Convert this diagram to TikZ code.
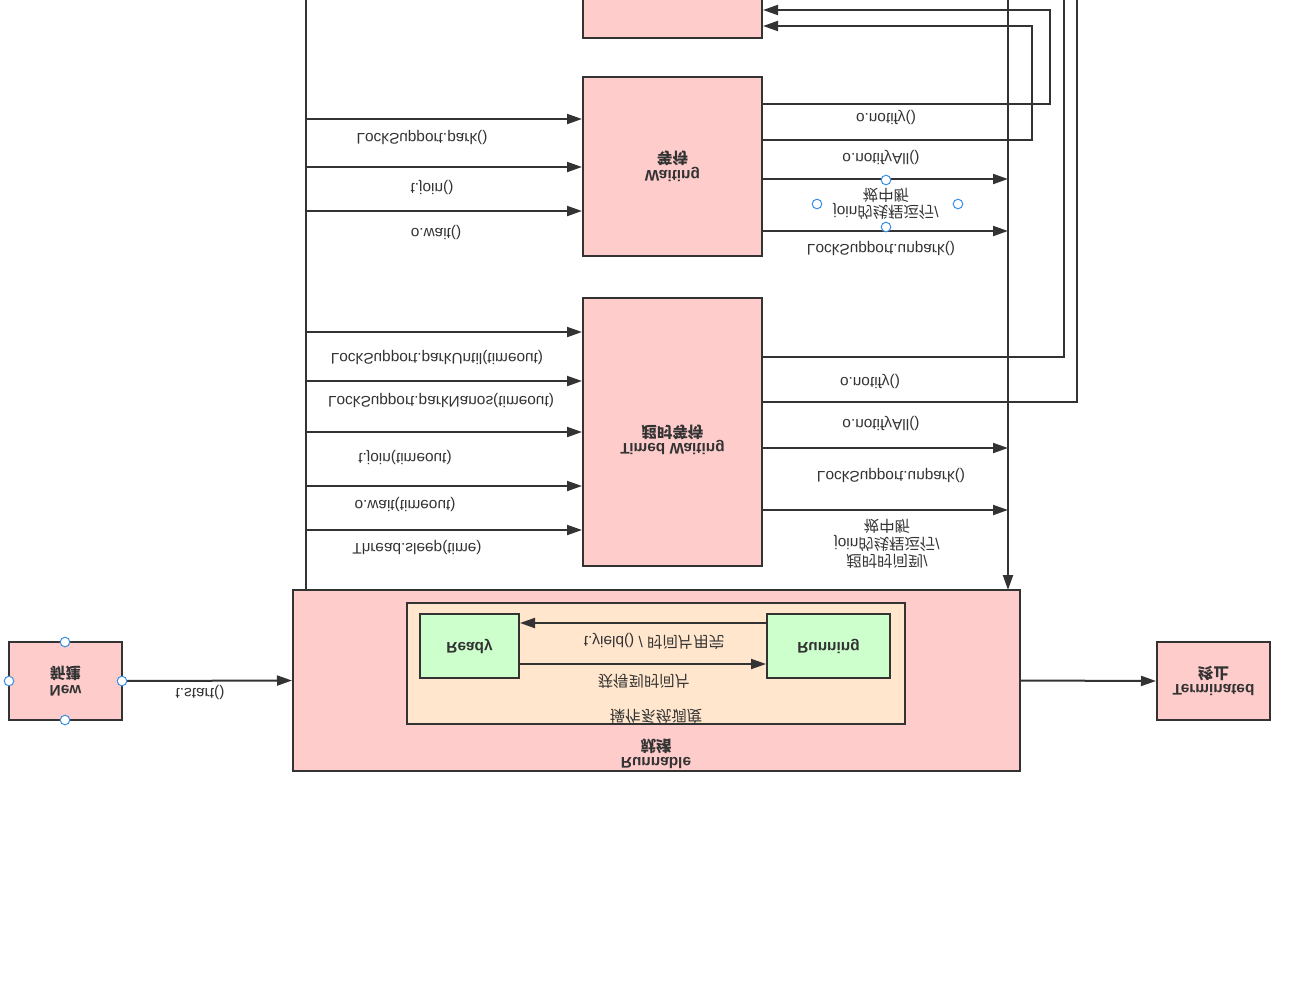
\documentclass[tikz,border=0pt]{standalone}
\usepackage{fontspec}
\setmainfont{Liberation Sans}
\newfontfamily\cjk{Noto Sans CJK SC}
\usetikzlibrary{arrows.meta}
\definecolor{pinkfill}{HTML}{FFCCCC}
\definecolor{peach}{HTML}{FFE6CC}
\definecolor{mint}{HTML}{CCFFCC}
\definecolor{ink}{HTML}{333333}
\definecolor{handleblue}{HTML}{3A8EE6}
\begin{document}
\begin{tikzpicture}[x=0.5pt,y=0.5pt,yscale=-1,
  every node/.style={transform shape,font=\fontsize{7.7}{8.8}\selectfont,inner sep=0pt,align=center,text=ink},
  box/.style={draw=ink,line width=1pt,fill=pinkfill},
  inbox/.style={draw=ink,line width=1pt},
  arr/.style={draw=ink,line width=1pt,-{Triangle[length=7.5pt,width=5pt]}},
  wire/.style={draw=ink,line width=1pt},
  handle/.style={draw=handleblue,fill=white,line width=0.5pt}]
\useasboundingbox (0,0) rectangle (1298,993);
\clip (0,0) rectangle (1298,993);

% ---------- boxes ----------
\node[box,minimum width=89.5pt,minimum height=49pt] (blocked) at (672.5,-11) {};
\node[box,minimum width=89.5pt,minimum height=89.5pt] (waiting) at (672.5,166.5) {\textbf{Waiting}\\{\cjk\bfseries 等待}};
\node[box,minimum width=89.5pt,minimum height=134pt] (timed) at (672.5,432) {};
\node (timedlbl) at (672.5,440) {\textbf{Timed Waiting}\\{\cjk\bfseries 超时等待}};
\node[box,minimum width=363.5pt,minimum height=90.5pt] (runnable) at (656.5,680.5) {};
\node[inbox,fill=peach,minimum width=249pt,minimum height=60.5pt] (os) at (656,663.5) {};
\node[inbox,fill=mint,minimum width=49.5pt,minimum height=32pt] (ready) at (469.5,646) {\textbf{Ready}};
\node[inbox,fill=mint,minimum width=61.5pt,minimum height=32pt] (running) at (828.5,646) {\textbf{Running}};
\node (oslbl) at (656,716) {\cjk 操作系统调度};
\node (runlbl) at (656,754) {\textbf{Runnable}\\{\cjk\bfseries 就绪}};
\node[box,minimum width=56.5pt,minimum height=39pt] (new) at (65.5,681) {\textbf{New}\\{\cjk\bfseries 新建}};
\node[box,minimum width=56.5pt,minimum height=39pt] (term) at (1213.5,681) {\textbf{Terminated}\\{\cjk\bfseries 终止}};

% ---------- left bus ----------
\coordinate (Ltop) at (306,-5);
\coordinate (Lbot) at (306,590);
\draw[wire] (Ltop) -- (Lbot);
\foreach \yy/\nm in {119/waiting,167/waiting,211/waiting,332/timed,381/timed,432/timed,486/timed,530/timed}{
  \coordinate (s) at (305,\yy);
  \draw[arr] (s) -- (s -| \nm.west);
}
\node (l1) at (422,137) {LockSupport.park()};
\node (l2) at (432,187) {t.join()};
\node (l3) at (436,232) {o.wait()};
\node (l4) at (437,357) {LockSupport.parkUntil(timeout)};
\node (l5) at (441,400) {LockSupport.parkNanos(timeout)};
\node (l6) at (405,457) {t.join(timeout)};
\node (l7) at (405,504) {o.wait(timeout)};
\node (l8) at (417,547) {Thread.sleep(time)};

% ---------- right bus ----------
\coordinate (Rtop) at (1008,-5);
\coordinate (Rbot) at (1008,590);
\draw[arr] (Rtop) -- (Rbot);

% waiting -> blocked
\coordinate (wa) at (1050,104);
\coordinate (wat) at (1050,10);
\coordinate (wb) at (1032,140);
\coordinate (wbt) at (1032,26);
\draw[arr] (waiting.east |- wa) -- (wa) -- (wat) -- (wat -| blocked.east);
\draw[arr] (waiting.east |- wb) -- (wb) -- (wbt) -- (wbt -| blocked.east);
\coordinate (wc) at (1008,179);
\coordinate (wd) at (1008,231);
\draw[arr] (waiting.east |- wc) -- (wc);
\draw[arr] (waiting.east |- wd) -- (wd);
\node (r1) at (886,117) {o.notify()};
\node (r2) at (881,157) {o.notifyAll()};
\node (r3) at (886,204) {join{\cjk 的线程运行}/\\{\cjk 被中断}};
\node (r4) at (881,248) {LockSupport.unpark()};

% timed waiting -> right
\coordinate (ta) at (1064,357);
\coordinate (tat) at (1064,-5);
\coordinate (tb) at (1077,402);
\coordinate (tbt) at (1077,-5);
\draw[wire] (timed.east |- ta) -- (ta) -- (tat);
\draw[wire] (timed.east |- tb) -- (tb) -- (tbt);
\coordinate (tc) at (1008,448);
\coordinate (td) at (1008,510);
\draw[arr] (timed.east |- tc) -- (tc);
\draw[arr] (timed.east |- td) -- (td);
\node (r5) at (870,381) {o.notify()};
\node (r6) at (881,423) {o.notifyAll()};
\node (r7) at (891,475) {LockSupport.unpark()};
\node (r8) at (887,544) {{\cjk 超时时间到}/\\join{\cjk 的线程运行}/\\{\cjk 被中断}};

% ---------- runnable internals ----------
\coordinate (ya) at (0,623);
\coordinate (yb) at (0,664);
\draw[arr] (running.west |- ya) -- (ready.east |- ya);
\draw[arr] (ready.east |- yb) -- (running.west |- yb);
\node (yl) at (654,641) {t.yield() / {\cjk 时间片用完}};
\node (gl) at (644,681) {\cjk 获得到时间片};

% ---------- new / terminated ----------
\draw[arr] (new.east) -- (runnable.west);
\node (sl) at (200,692) {t.start()};
\draw[arr] (runnable.east) -- (term.west);

% ---------- selection handles ----------
\foreach \hx/\hy in {65/642,9/681,122/681,65/720,886/180,817/204,958/204,886/227}{
  \draw[handle] (\hx,\hy) circle[radius=2.4pt];
}
\end{tikzpicture}
\end{document}
